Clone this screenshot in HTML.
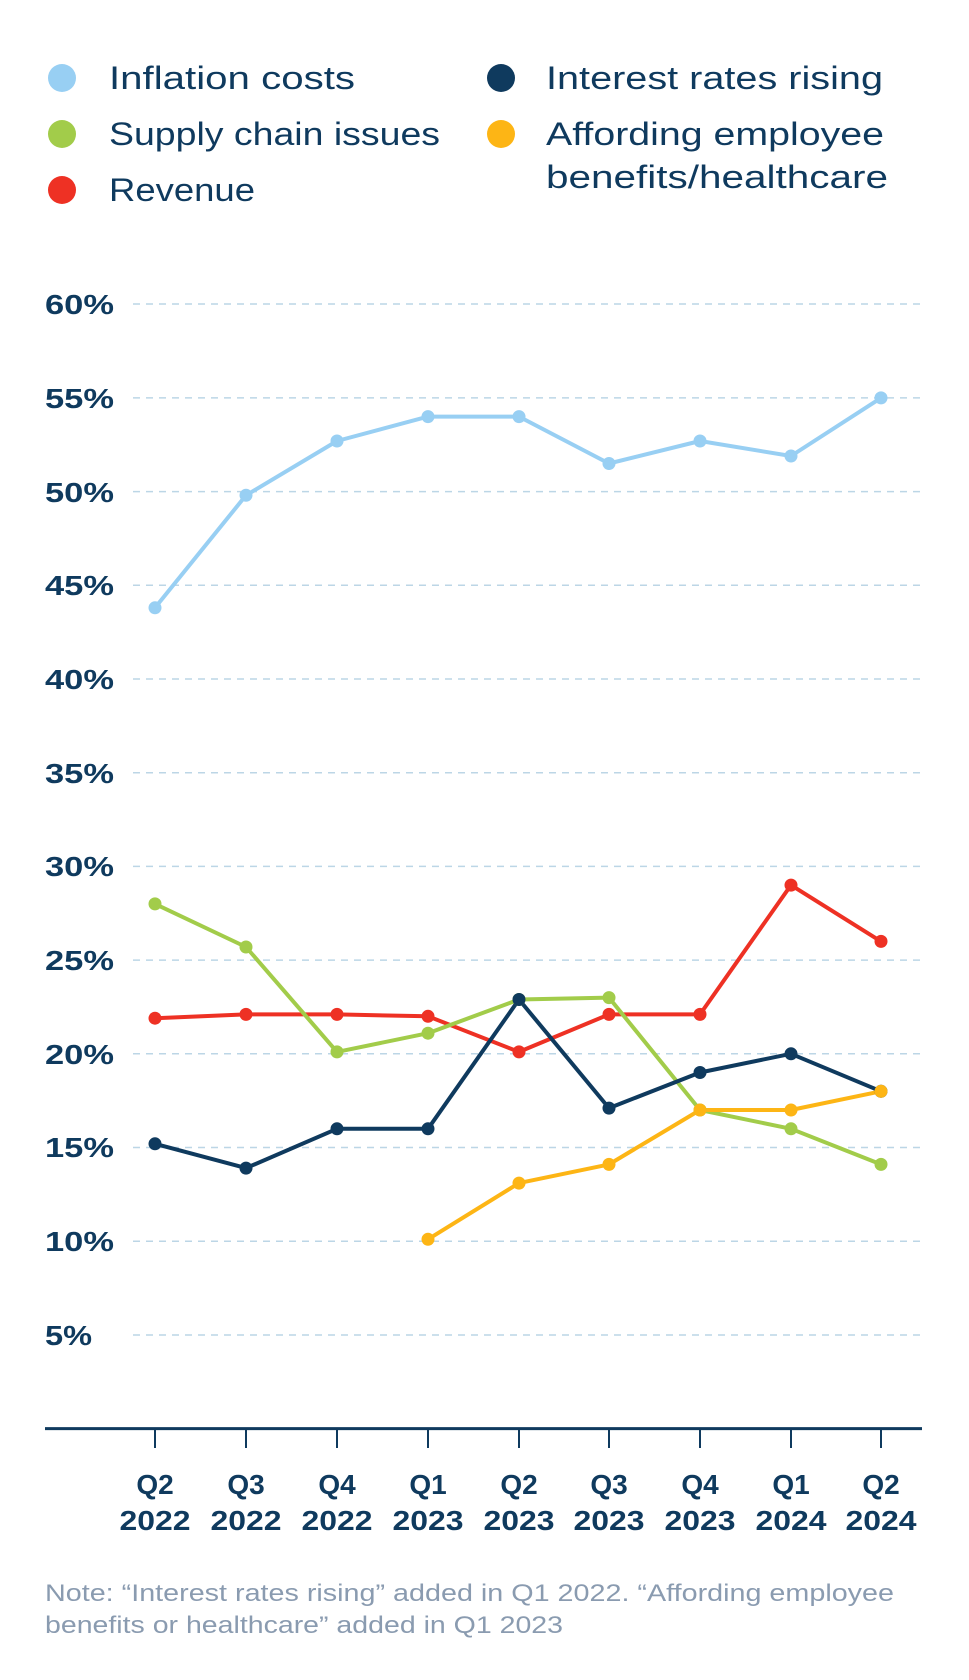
<!DOCTYPE html>
<html><head><meta charset="utf-8"><style>
body{margin:0;background:#fff;}
svg{display:block;font-family:"Liberation Sans",sans-serif;}
.lg{font-size:32px;fill:#0f3a5e;}
.yl{font-size:28px;font-weight:bold;fill:#0f3a5e;}
.xl{font-size:28px;font-weight:bold;fill:#0f3a5e;text-anchor:middle;}
.nt{font-size:24px;fill:#8a9bb0;}
</style></head><body>
<svg width="969" height="1680" viewBox="0 0 969 1680">
<circle cx="62" cy="78" r="14" fill="#98cff3"/><text class="lg" x="109" y="89" textLength="246" lengthAdjust="spacingAndGlyphs">Inflation costs</text>
<circle cx="62" cy="134" r="14" fill="#a2cc4a"/><text class="lg" x="109" y="145" textLength="331" lengthAdjust="spacingAndGlyphs">Supply chain issues</text>
<circle cx="62" cy="190" r="14" fill="#ee3124"/><text class="lg" x="109" y="201" textLength="146" lengthAdjust="spacingAndGlyphs">Revenue</text>
<circle cx="501" cy="78" r="14" fill="#0f3a5e"/><text class="lg" x="546" y="89" textLength="337" lengthAdjust="spacingAndGlyphs">Interest rates rising</text>
<circle cx="501" cy="134" r="14" fill="#fdb515"/><text class="lg" x="546" y="145" textLength="338" lengthAdjust="spacingAndGlyphs">Affording employee</text>
<text class="lg" x="546" y="188" textLength="342" lengthAdjust="spacingAndGlyphs">benefits/healthcare</text>
<g stroke="#bcd6e6" stroke-width="1.5" stroke-dasharray="7,6">
<line x1="133" x2="922" y1="304" y2="304"/><line x1="133" x2="922" y1="397.9" y2="397.9"/>
<line x1="133" x2="922" y1="491.6" y2="491.6"/><line x1="133" x2="922" y1="585.3" y2="585.3"/>
<line x1="133" x2="922" y1="679" y2="679"/><line x1="133" x2="922" y1="772.7" y2="772.7"/>
<line x1="133" x2="922" y1="866.4" y2="866.4"/><line x1="133" x2="922" y1="960.1" y2="960.1"/>
<line x1="133" x2="922" y1="1053.8" y2="1053.8"/><line x1="133" x2="922" y1="1147.5" y2="1147.5"/>
<line x1="133" x2="922" y1="1241.2" y2="1241.2"/><line x1="133" x2="922" y1="1335" y2="1335"/>
</g>
<g class="yl">
<text x="45" y="314" textLength="69" lengthAdjust="spacingAndGlyphs">60%</text><text x="45" y="408" textLength="69" lengthAdjust="spacingAndGlyphs">55%</text><text x="45" y="502" textLength="69" lengthAdjust="spacingAndGlyphs">50%</text>
<text x="45" y="595" textLength="69" lengthAdjust="spacingAndGlyphs">45%</text><text x="45" y="689" textLength="69" lengthAdjust="spacingAndGlyphs">40%</text><text x="45" y="783" textLength="69" lengthAdjust="spacingAndGlyphs">35%</text>
<text x="45" y="876" textLength="69" lengthAdjust="spacingAndGlyphs">30%</text><text x="45" y="970" textLength="69" lengthAdjust="spacingAndGlyphs">25%</text><text x="45" y="1064" textLength="69" lengthAdjust="spacingAndGlyphs">20%</text>
<text x="45" y="1157" textLength="69" lengthAdjust="spacingAndGlyphs">15%</text><text x="45" y="1251" textLength="69" lengthAdjust="spacingAndGlyphs">10%</text><text x="45" y="1345" textLength="47" lengthAdjust="spacingAndGlyphs">5%</text>
</g>
<line x1="45" x2="922" y1="1428.6" y2="1428.6" stroke="#0f3a5e" stroke-width="3"/>
<g stroke="#0f3a5e" stroke-width="2">
<line x1="155" x2="155" y1="1428" y2="1448"/><line x1="246" x2="246" y1="1428" y2="1448"/>
<line x1="337" x2="337" y1="1428" y2="1448"/><line x1="428" x2="428" y1="1428" y2="1448"/>
<line x1="519" x2="519" y1="1428" y2="1448"/><line x1="609" x2="609" y1="1428" y2="1448"/>
<line x1="700" x2="700" y1="1428" y2="1448"/><line x1="791" x2="791" y1="1428" y2="1448"/>
<line x1="881" x2="881" y1="1428" y2="1448"/>
</g>
<g class="xl">
<text x="155" y="1494">Q2</text><text x="246" y="1494">Q3</text><text x="337" y="1494">Q4</text>
<text x="428" y="1494">Q1</text><text x="519" y="1494">Q2</text><text x="609" y="1494">Q3</text>
<text x="700" y="1494">Q4</text><text x="791" y="1494">Q1</text><text x="881" y="1494">Q2</text>
<text x="155" y="1530" textLength="71" lengthAdjust="spacingAndGlyphs">2022</text><text x="246" y="1530" textLength="71" lengthAdjust="spacingAndGlyphs">2022</text><text x="337" y="1530" textLength="71" lengthAdjust="spacingAndGlyphs">2022</text>
<text x="428" y="1530" textLength="71" lengthAdjust="spacingAndGlyphs">2023</text><text x="519" y="1530" textLength="71" lengthAdjust="spacingAndGlyphs">2023</text><text x="609" y="1530" textLength="71" lengthAdjust="spacingAndGlyphs">2023</text>
<text x="700" y="1530" textLength="71" lengthAdjust="spacingAndGlyphs">2023</text><text x="791" y="1530" textLength="71" lengthAdjust="spacingAndGlyphs">2024</text><text x="881" y="1530" textLength="71" lengthAdjust="spacingAndGlyphs">2024</text>
</g>
<g fill="none" stroke-width="4" stroke-linejoin="round">
<polyline stroke="#98cff3" points="155,607.8 246,495.3 337,441 428,416.6 519,416.6 609,463.5 700,441 791,456 881,397.9"/>
<polyline stroke="#ee3124" points="155,1018.2 246,1014.4 337,1014.4 428,1016.3 519,1051.9 609,1014.4 700,1014.4 791,885.1 881,941.4"/>
<polyline stroke="#a2cc4a" points="155,903.9 246,947 337,1051.9 428,1033.2 519,999.5 609,997.6 700,1110 791,1128.8 881,1164.4"/>
<polyline stroke="#0f3a5e" points="155,1143.8 246,1168.1 337,1128.8 428,1128.8 519,999.5 609,1108.1 700,1072.5 791,1053.8 881,1091.3"/>
<polyline stroke="#fdb515" points="428,1239.3 519,1183.1 609,1164.4 700,1110 791,1110 881,1091.3"/>
</g>
<g fill="#98cff3"><circle cx="155" cy="607.8" r="6.5"/><circle cx="246" cy="495.3" r="6.5"/><circle cx="337" cy="441" r="6.5"/><circle cx="428" cy="416.6" r="6.5"/><circle cx="519" cy="416.6" r="6.5"/><circle cx="609" cy="463.5" r="6.5"/><circle cx="700" cy="441" r="6.5"/><circle cx="791" cy="456" r="6.5"/><circle cx="881" cy="397.9" r="6.5"/></g>
<g fill="#ee3124"><circle cx="155" cy="1018.2" r="6.5"/><circle cx="246" cy="1014.4" r="6.5"/><circle cx="337" cy="1014.4" r="6.5"/><circle cx="428" cy="1016.3" r="6.5"/><circle cx="519" cy="1051.9" r="6.5"/><circle cx="609" cy="1014.4" r="6.5"/><circle cx="700" cy="1014.4" r="6.5"/><circle cx="791" cy="885.1" r="6.5"/><circle cx="881" cy="941.4" r="6.5"/></g>
<g fill="#a2cc4a"><circle cx="155" cy="903.9" r="6.5"/><circle cx="246" cy="947" r="6.5"/><circle cx="337" cy="1051.9" r="6.5"/><circle cx="428" cy="1033.2" r="6.5"/><circle cx="519" cy="999.5" r="6.5"/><circle cx="609" cy="997.6" r="6.5"/><circle cx="700" cy="1110" r="6.5"/><circle cx="791" cy="1128.8" r="6.5"/><circle cx="881" cy="1164.4" r="6.5"/></g>
<g fill="#0f3a5e"><circle cx="155" cy="1143.8" r="6.5"/><circle cx="246" cy="1168.1" r="6.5"/><circle cx="337" cy="1128.8" r="6.5"/><circle cx="428" cy="1128.8" r="6.5"/><circle cx="519" cy="999.5" r="6.5"/><circle cx="609" cy="1108.1" r="6.5"/><circle cx="700" cy="1072.5" r="6.5"/><circle cx="791" cy="1053.8" r="6.5"/><circle cx="881" cy="1091.3" r="6.5"/></g>
<g fill="#fdb515"><circle cx="428" cy="1239.3" r="6.5"/><circle cx="519" cy="1183.1" r="6.5"/><circle cx="609" cy="1164.4" r="6.5"/><circle cx="700" cy="1110" r="6.5"/><circle cx="791" cy="1110" r="6.5"/><circle cx="881" cy="1091.3" r="6.5"/></g>
<text class="nt" x="45" y="1601" textLength="849" lengthAdjust="spacingAndGlyphs">Note: “Interest rates rising” added in Q1 2022. “Affording employee</text>
<text class="nt" x="45" y="1633" textLength="518" lengthAdjust="spacingAndGlyphs">benefits or healthcare” added in Q1 2023</text>
</svg>
</body></html>
